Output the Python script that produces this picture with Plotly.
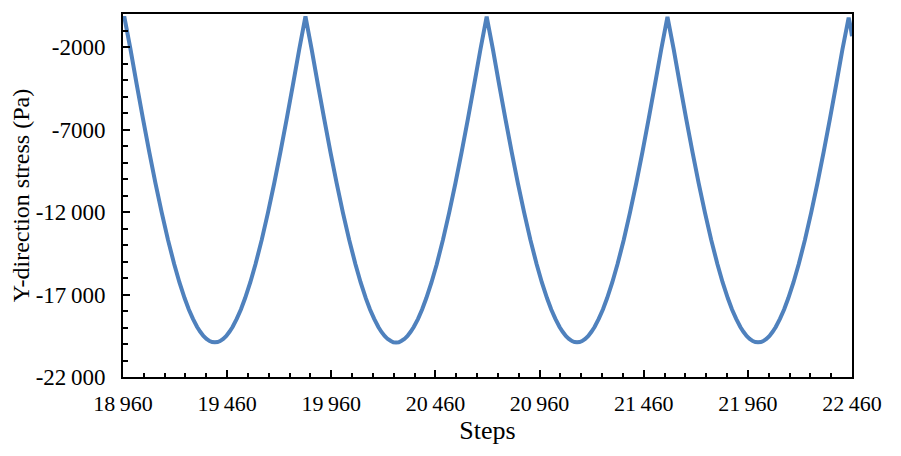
import plotly.graph_objects as go

# steps (x) and Y-direction stress (Pa)
steps = [
    18962, 18966,
    18996, 19026, 19056, 19086, 19116, 19146, 19176, 19206, 19231, 19256, 19276, 19296, 19316, 19331, 19346, 19361, 19376, 19388, 19401,
    19414, 19426, 19441, 19456, 19471, 19486, 19506, 19526, 19546, 19571, 19596, 19626, 19656, 19686, 19716, 19746, 19776, 19806, 19836,
    19866, 19896, 19926, 19956, 19986, 20016, 20046, 20076, 20101, 20126, 20146, 20166, 20186, 20201, 20216, 20231, 20246, 20258, 20271,
    20284, 20296, 20311, 20326, 20341, 20356, 20376, 20396, 20416, 20441, 20466, 20496, 20526, 20556, 20586, 20616, 20646, 20676, 20706,
    20736, 20766, 20796, 20826, 20856, 20886, 20916, 20946, 20971, 20996, 21016, 21036, 21056, 21071, 21086, 21101, 21116, 21128, 21140,
    21152, 21164, 21179, 21194, 21209, 21224, 21244, 21264, 21284, 21309, 21334, 21364, 21394, 21424, 21454, 21484, 21514, 21544, 21574,
    21604, 21634, 21664, 21694, 21724, 21754, 21784, 21814, 21839, 21864, 21884, 21904, 21924, 21939, 21954, 21969, 21984, 21996, 22009,
    22022, 22034, 22049, 22064, 22079, 22094, 22114, 22134, 22154, 22179, 22204, 22234, 22264, 22294, 22324, 22354, 22384, 22414, 22444,
    22452, 22460,
]
stress = [
    -300, -150,
    -2150, -4280, -6350, -8360, -10260, -12040, -13690, -15170, -16270, -17230, -17910, -18480, -18970, -19260, -19510, -19690, -19820, -19880, -19900,
    -19880, -19820, -19690, -19510, -19260, -18970, -18480, -17910, -17230, -16270, -15170, -13690, -12040, -10260, -8360, -6350, -4280, -2150, -150,
    -2160, -4290, -6350, -8370, -10260, -12050, -13690, -15170, -16270, -17240, -17910, -18480, -18970, -19270, -19510, -19700, -19820, -19890, -19910,
    -19890, -19820, -19700, -19510, -19260, -18970, -18490, -17910, -17230, -16270, -15180, -13690, -12040, -10260, -8360, -6350, -4280, -2150, -160,
    -2150, -4280, -6350, -8360, -10260, -12040, -13690, -15170, -16270, -17230, -17910, -18480, -18970, -19260, -19510, -19690, -19820, -19880, -19900,
    -19880, -19820, -19690, -19510, -19260, -18970, -18480, -17910, -17230, -16270, -15170, -13700, -12040, -10260, -8360, -6340, -4270, -2150, -180,
    -2150, -4280, -6350, -8360, -10260, -12040, -13690, -15170, -16270, -17230, -17910, -18480, -18970, -19260, -19510, -19690, -19820, -19880, -19900,
    -19880, -19820, -19690, -19510, -19260, -18970, -18480, -17910, -17230, -16270, -15170, -13690, -12040, -10260, -8360, -6350, -4280, -2150, -220,
    -700, -1350,
]

x_ticks = [18960, 19460, 19960, 20460, 20960, 21460, 21960, 22460]
x_labels = ["18\u2009960", "19\u2009460", "19\u2009960", "20\u2009460",
            "20\u2009960", "21\u2009460", "21\u2009960", "22\u2009460"]
y_ticks = [-2000, -7000, -12000, -17000, -22000]
y_labels = ["-2000", "-7000", "-12\u2009000", "-17\u2009000", "-22\u2009000"]

fig = go.Figure(go.Scatter(
    x=steps, y=stress, mode="lines",
    line=dict(color="#4F81BD", width=4, simplify=False),
    showlegend=False,
))

# page body has an 8px margin, so the figure is a bit smaller than the window
fig.update_layout(
    width=885, height=440,
    margin=dict(l=115, r=41, t=4, b=71),
    paper_bgcolor="white", plot_bgcolor="white",
    font=dict(family="Liberation Serif", size=22, color="black"),
)

fig.update_xaxes(
    range=[18960, 22460],
    tickmode="array", tickvals=x_ticks, ticktext=x_labels,
    showline=True, linecolor="black", linewidth=2, mirror=True,
    ticks="inside", ticklen=7, tickwidth=2, tickcolor="black",
    ticklabelstandoff=6,
    minor=dict(tickmode="linear", tick0=18960, dtick=100,
               ticks="inside", ticklen=4, tickwidth=2, tickcolor="black"),
    showgrid=False, zeroline=False,
    title=dict(text="Steps", standoff=1),
)

fig.update_yaxes(
    range=[-22000, 0],
    tickmode="array", tickvals=y_ticks, ticktext=y_labels,
    tickfont=dict(size=23),
    showline=True, linecolor="black", linewidth=2, mirror=True,
    ticks="inside", ticklen=7, tickwidth=2, tickcolor="black",
    ticklabelstandoff=11,
    minor=dict(tickmode="linear", tick0=-22000, dtick=1000,
               ticks="inside", ticklen=5, tickwidth=2, tickcolor="black"),
    showgrid=False, zeroline=False,
    title=dict(text="Y-direction stress (Pa)", standoff=4, font=dict(size=24)),
)

fig.write_html("out.html")
